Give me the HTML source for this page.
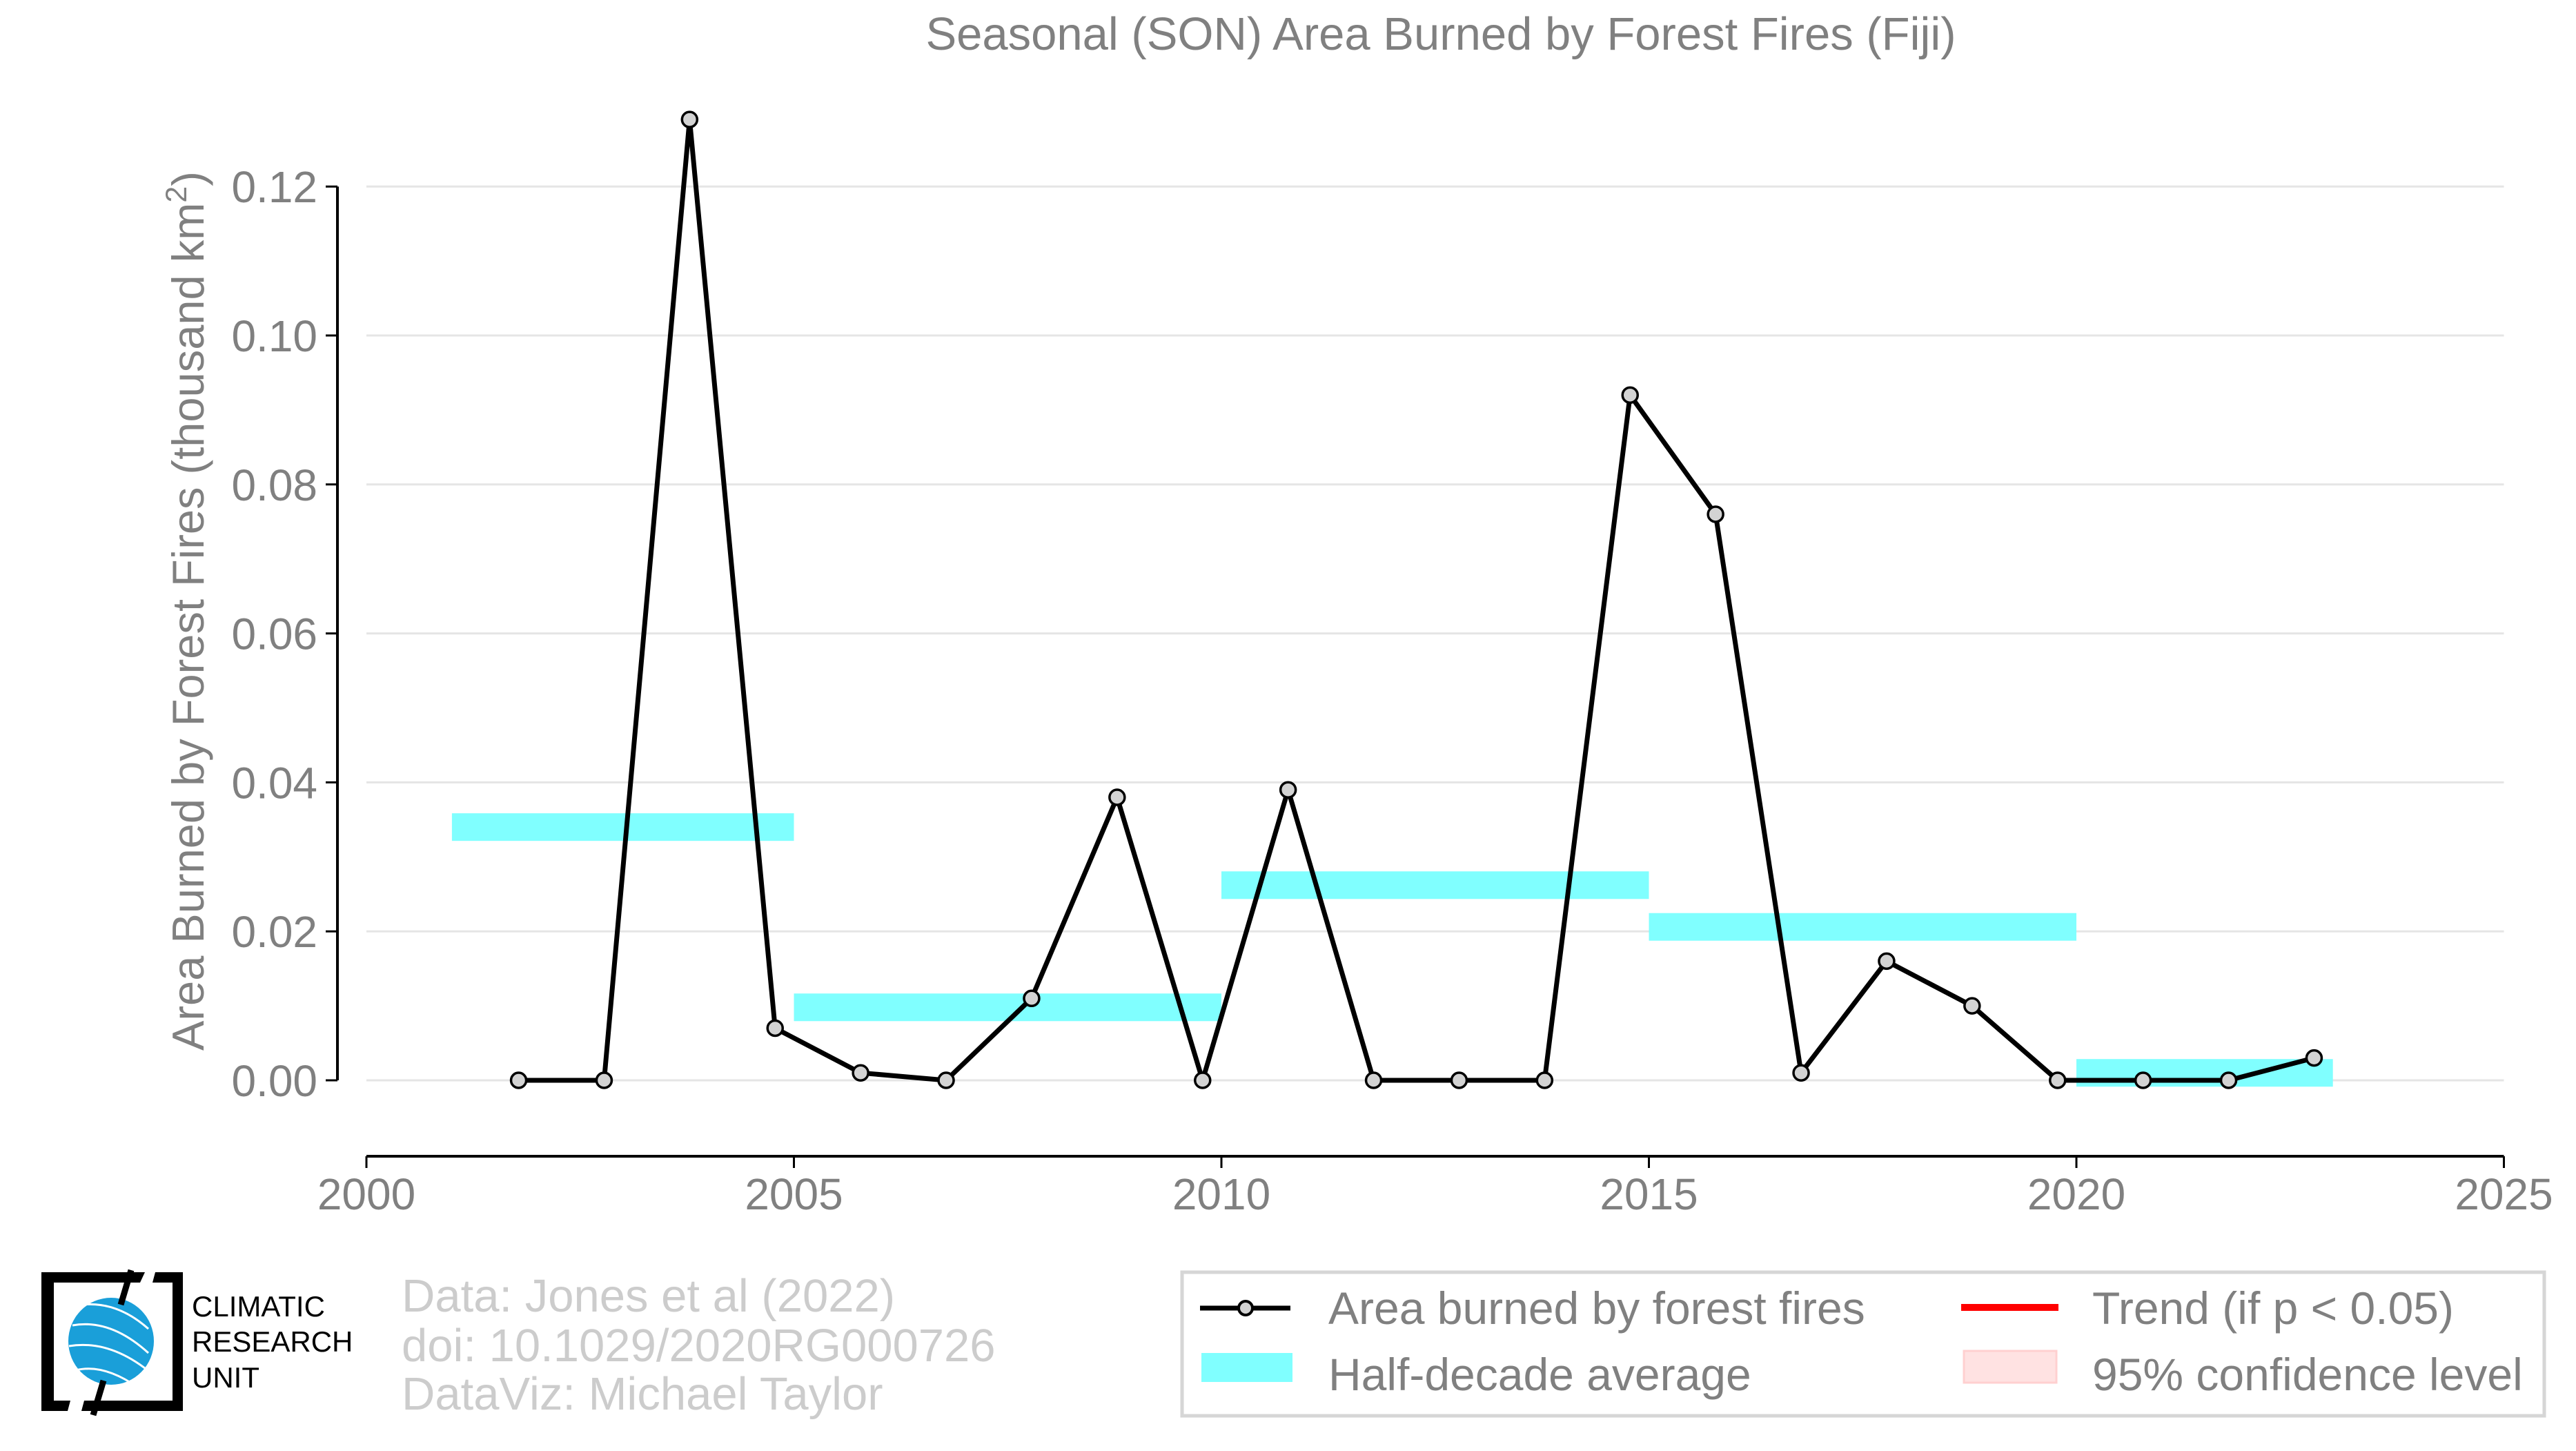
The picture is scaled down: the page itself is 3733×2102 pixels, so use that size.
<!DOCTYPE html>
<html><head><meta charset="utf-8"><style>
body{margin:0;background:#fff;}
svg{display:block;font-family:"Liberation Sans",sans-serif;}
</style></head><body>
<svg id="chart" width="3733" height="2102" viewBox="0 0 3733 2102" xmlns="http://www.w3.org/2000/svg">
<text x="2088" y="72" font-size="67" fill="#808080" text-anchor="middle">Seasonal (SON) Area Burned by Forest Fires (Fiji)</text>
<g id="grid"></g>
<g id="bands"></g>
<g id="series"></g>
<g id="axes"></g>
<text transform="translate(295,885) rotate(-90)" font-size="65" fill="#808080" text-anchor="middle">Area Burned by Forest Fires (thousand km<tspan font-size="43" dy="-25">2</tspan><tspan dy="25">)</tspan></text>
<g>
<path d="M60 1843 H210 L203 1858 H78 V2029 H102 L98 2044 H60 Z" fill="#000"/>
<path d="M225 1843 H265 V2044 H118 L122 2029 H250 V1858 H221 Z" fill="#000"/>
<ellipse cx="161" cy="1943" rx="62" ry="63" fill="#1a9fd9"/>
<path d="M105 1920 Q160 1910 215 1960 M100 1950 Q160 1940 220 1990 M110 1985 Q150 1975 200 2010 M120 1890 Q170 1885 215 1925" stroke="#fff" stroke-width="3" fill="none"/>
<path d="M190 1840 L175 1890 M150 2000 L135 2050" stroke="#000" stroke-width="9"/>
<text x="278" y="1907" font-size="42" fill="#000">CLIMATIC</text>
<text x="278" y="1958" font-size="42" fill="#000">RESEARCH</text>
<text x="278" y="2010" font-size="42" fill="#000">UNIT</text>
</g>
<g fill="#cccccc" font-size="67">
<text x="582" y="1900">Data: Jones et al (2022)</text>
<text x="582" y="1972">doi: 10.1029/2020RG000726</text>
<text x="582" y="2042">DataViz: Michael Taylor</text>
</g>
<g>
<rect x="1713" y="1843" width="1974" height="208" fill="#fff" stroke="#d6d6d6" stroke-width="5"/>
<line x1="1739" y1="1895" x2="1870" y2="1895" stroke="#000" stroke-width="7"/>
<circle cx="1805" cy="1895" r="10" fill="#d3d3d3" stroke="#000" stroke-width="4"/>
<text x="1925" y="1918" font-size="66" fill="#808080">Area burned by forest fires</text>
<rect x="1741" y="1960" width="132" height="42" fill="#80ffff"/>
<text x="1925" y="2014" font-size="66" fill="#808080">Half-decade average</text>
<rect x="2842" y="1889" width="141" height="10" fill="#ff0000"/>
<text x="3032" y="1918" font-size="66" fill="#808080">Trend (if p &lt; 0.05)</text>
<rect x="2846" y="1957" width="134" height="46" fill="#ffe2e2" stroke="#ffd0d0" stroke-width="3"/>
<text x="3032" y="2014" font-size="66" fill="#808080">95% confidence level</text>
</g>
</svg>
<script>
const years=[2002,2003,2004,2005,2006,2007,2008,2009,2010,2011,2012,2013,2014,2015,2016,2017,2018,2019,2020,2021,2022,2023];
const values=[0,0,0.129,0.007,0.001,0,0.011,0.038,0,0.039,0,0,0,0.092,0.076,0.001,0.016,0.010,0,0,0,0.003];
const bandStarts=[2001,2005,2010,2015,2020];
const bandEnds=[2005,2010,2015,2020,2023];
const bandValues=[0.034,0.0098,0.0262,0.0206,0.001];
const yTicks=[0,0.02,0.04,0.06,0.08,0.10,0.12];
const yTickLabels=["0.00","0.02","0.04","0.06","0.08","0.10","0.12"];
const xTicks=[2000,2005,2010,2015,2020,2025];
const NS="http://www.w3.org/2000/svg";
const X=v=>531+(v-2000)*123.9;
const Y=v=>1565-v*10790;
function mk(parent,tag,attrs){const e=document.createElementNS(NS,tag);for(const k in attrs)e.setAttribute(k,attrs[k]);document.getElementById(parent).appendChild(e);return e;}
yTicks.forEach((t,i)=>{
 const g=mk('grid','line',{x1:531,x2:X(2025),y1:Y(t),y2:Y(t),stroke:'#e5e5e5','stroke-width':3});
 
 
 const tk=mk('axes','line',{x1:472,x2:489,y1:Y(t),y2:Y(t),stroke:'#000','stroke-width':3});
 
 
 const lb=mk('axes','text',{x:460,y:Y(t)+23,'font-size':64,fill:'#808080','text-anchor':'end'});
 lb.textContent=yTickLabels[i];
 
 
});
let a=mk('axes','line',{x1:489,x2:489,y1:Y(0.12),y2:Y(0),stroke:'#000','stroke-width':4});


a=mk('axes','line',{x1:X(2000),x2:X(2025),y1:1675,y2:1675,stroke:'#000','stroke-width':4});


xTicks.forEach(t=>{
 const tk=mk('axes','line',{x1:X(t),x2:X(t),y1:1675,y2:1692,stroke:'#000','stroke-width':3});
 
 
 const lb=mk('axes','text',{x:X(t),y:1752,'font-size':64,fill:'#808080','text-anchor':'middle'});
 lb.textContent=t;
 
 
});
bandValues.forEach((v,i)=>{
 const r=mk('bands','rect',{x:X(bandStarts[i]),width:X(bandEnds[i])-X(bandStarts[i]),y:Y(v)-20,height:40,fill:'#80ffff'});
 
 
});
const pts=years.map((y,i)=>[X(y-0.22),Y(values[i])]);
const pl=mk('series','polyline',{points:pts.map(p=>p.join(',')).join(' '),fill:'none',stroke:'#000','stroke-width':7,'stroke-linejoin':'round'});


pts.forEach(p=>{
 const c=mk('series','circle',{cx:p[0],cy:p[1],r:11,fill:'#d3d3d3',stroke:'#000','stroke-width':3.5});
 
 
});
</script>
</body></html>
